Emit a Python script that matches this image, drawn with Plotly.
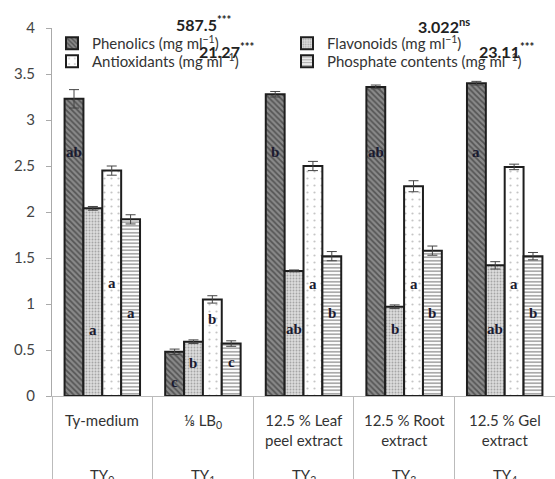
import plotly.graph_objects as go

categories = ["TY0", "TY1", "TY2", "TY3", "TY4"]
cat_labels = ["Ty-medium", "⅛ LB<sub>0</sub>", "12.5 % Leaf<br>peel extract", "12.5 % Root<br>extract", "12.5 % Gel<br>extract"]
group_labels = ["TY<sub>0</sub>", "TY<sub>1</sub>", "TY<sub>2</sub>", "TY<sub>3</sub>", "TY<sub>4</sub>"]

series_names = ["Phenolics (mg ml<sup>−1</sup>)", "Flavonoids (mg ml<sup>−1</sup>)",
                "Antioxidants (mg ml<sup>−1</sup>)", "Phosphate contents (mg ml<sup>−1</sup>)"]

phenolics = [3.23, 0.48, 3.28, 3.36, 3.40]
flavonoids = [2.04, 0.59, 1.36, 0.97, 1.42]
antioxidants = [2.45, 1.05, 2.50, 2.28, 2.49]
phosphate = [1.92, 0.57, 1.52, 1.58, 1.52]

phenolics_err = [0.10, 0.03, 0.03, 0.02, 0.02]
flavonoids_err = [0.02, 0.02, 0.01, 0.02, 0.04]
antioxidants_err = [0.05, 0.04, 0.05, 0.06, 0.03]
phosphate_err = [0.05, 0.03, 0.05, 0.05, 0.04]

phenolics_letters = ["ab", "c", "b", "ab", "a"]
flavonoids_letters = ["a", "b", "ab", "b", "ab"]
antioxidants_letters = ["a", "b", "a", "a", "a"]
phosphate_letters = ["a", "c", "b", "b", "b"]

phenolics_letter_y = [2.65, 0.15, 2.65, 2.65, 2.65]
flavonoids_letter_y = [0.72, 0.36, 0.73, 0.73, 0.73]
antioxidants_letter_y = [1.23, 0.84, 1.22, 1.22, 1.22]
phosphate_letter_y = [0.90, 0.37, 0.90, 0.90, 0.90]

stat_texts = ["<b>587.5<sup>***</sup></b>", "<b>21.27<sup>***</sup></b>",
              "<b>3.022<sup>ns</sup></b>", "<b>23.11<sup>***</sup></b>"]

values = [phenolics, flavonoids, antioxidants, phosphate]
errors = [phenolics_err, flavonoids_err, antioxidants_err, phosphate_err]
letters = [phenolics_letters, flavonoids_letters, antioxidants_letters, phosphate_letters]
letter_ys = [phenolics_letter_y, flavonoids_letter_y, antioxidants_letter_y, phosphate_letter_y]

styles = [
    dict(color="#8a8a8a", pattern=dict(shape="\\", fgcolor="#1e1e1e", size=4, solidity=0.45, fillmode="overlay")),
    dict(color="#dcdcdc", pattern=dict(shape=".", fgcolor="#6e6e6e", size=3, solidity=0.3, fillmode="overlay")),
    dict(color="#ffffff", pattern=dict(shape=".", fgcolor="#8c8c8c", size=7, solidity=0.08, fillmode="overlay")),
    dict(color="#ffffff", pattern=dict(shape="-", fgcolor="#555555", size=3.5, solidity=0.5, fillmode="overlay")),
]
legend_ids = ["legend", "legend2", "legend3", "legend4"]
# legend anchor (left, top) in pixels
legend_pos = [(52, 27), (287, 27), (52, 45), (287, 45)]

W, H = 555, 479
ML, MR, MT, MB = 52, 0, 28, 83
BARGAP = 0.25

fig = go.Figure()
for i in range(4):
    fig.add_trace(go.Bar(
        x=categories, y=values[i], name=series_names[i],
        marker=dict(color=styles[i]["color"], pattern=styles[i]["pattern"],
                    line=dict(color="#1e1e1e", width=2)),
        error_y=dict(type="data", array=errors[i], color="#444444", thickness=1, width=5),
        legend=legend_ids[i], showlegend=True,
    ))

plot_w = W - ML - MR
plot_h = H - MT - MB
cat_w = plot_w / len(categories)
bar_w = cat_w * (1 - BARGAP) / 4

annotations = []
for i in range(4):
    for j, c in enumerate(categories):
        annotations.append(dict(
            x=c, y=letter_ys[i][j], xref="x", yref="y", text="<b>" + letters[i][j] + "</b>",
            showarrow=False, xshift=(i - 1.5) * bar_w,
            font=dict(family="Liberation Serif, serif", size=15, color="#1a1a30"),
        ))

def px_x(p):
    return (p - ML) / plot_w

def px_y(p):
    return (H - MB - p) / plot_h

for j, c in enumerate(categories):
    annotations.append(dict(x=c, xref="x", y=px_y(409), yref="paper", yanchor="top",
                            text=cat_labels[j], showarrow=False,
                            font=dict(family="Lato, sans-serif", size=15, color="#333333")))
    annotations.append(dict(x=c, xref="x", y=px_y(476), yref="paper", yanchor="middle",
                            text=group_labels[j], showarrow=False,
                            font=dict(family="Lato, sans-serif", size=15, color="#333333")))

stat_pos = [(174, 24), (197, 50), (416, 25), (477, 50)]
for t, (sx, sy) in zip(stat_texts, stat_pos):
    annotations.append(dict(x=px_x(sx), y=px_y(sy), xref="paper", yref="paper",
                            xanchor="left", yanchor="middle", text=t, showarrow=False,
                            font=dict(family="Lato, sans-serif", size=16, color="#222222")))

legends = {}
for i, lid in enumerate(legend_ids):
    lx, ly = legend_pos[i]
    legends[lid] = dict(x=px_x(lx), y=px_y(ly), xanchor="left", yanchor="top",
                        bgcolor="rgba(0,0,0,0)", font=dict(size=15, color="#333333"))

fig.update_layout(
    width=W, height=H, showlegend=True,
    margin=dict(l=ML, r=MR, t=MT, b=MB, pad=0, autoexpand=False),
    paper_bgcolor="white", plot_bgcolor="white",
    barmode="group", bargap=BARGAP, bargroupgap=0,
    font=dict(family="Lato, sans-serif", color="#333333"),
    xaxis=dict(type="category", showline=True, linecolor="#bbbbbb", linewidth=1,
               ticks="outside", tickson="boundaries", ticklen=90, tickcolor="#bbbbbb",
               showticklabels=False, showgrid=False, zeroline=False, automargin=False),
    yaxis=dict(range=[0, 4], dtick=0.5, showline=True, linecolor="#aaaaaa", linewidth=1,
               ticks="outside", ticklen=5, tickcolor="#aaaaaa", showgrid=False, zeroline=False,
               automargin=False, ticklabelstandoff=8,
               tickfont=dict(family="Lato, sans-serif", size=15, color="#444444")),
    annotations=annotations,
    **legends,
)

fig.write_html("out.html", config={"displayModeBar": False},
               post_script="document.body.style.margin='0';document.body.style.overflow='hidden';")
